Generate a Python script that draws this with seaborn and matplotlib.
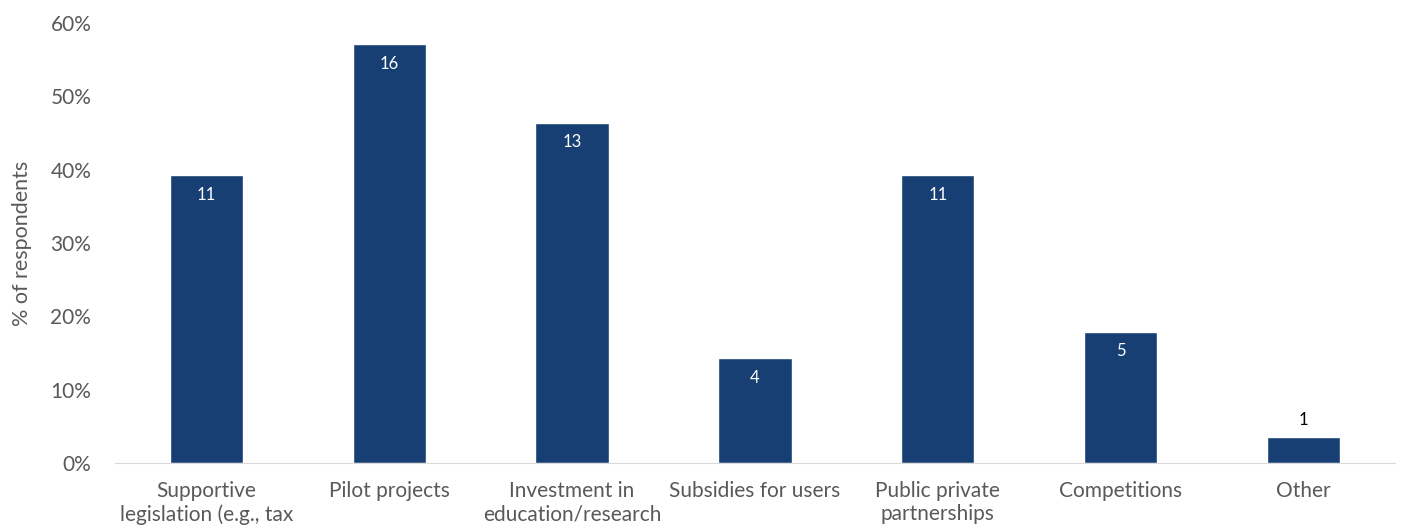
import pandas as pd
import seaborn as sns
import matplotlib.pyplot as plt
from matplotlib.ticker import PercentFormatter

categories = [
    "Supportive\nlegislation (e.g., tax",
    "Pilot projects",
    "Investment in\neducation/research",
    "Subsidies for users",
    "Public private\npartnerships",
    "Competitions",
    "Other",
]
pct = [39.3, 57.1, 46.4, 14.3, 39.3, 17.9, 3.6]
counts = [11, 16, 13, 4, 11, 5, 1]

df = pd.DataFrame({"category": categories, "pct": pct, "count": counts})

sns.set_style("white")
plt.rcParams["font.family"] = ["Lato", "DejaVu Sans"]

fig = plt.figure(figsize=(14.01, 5.32), dpi=100)
ax = fig.add_axes([0.082, 0.1297, 0.9137, 0.8271])

sns.barplot(data=df, x="category", y="pct", color="#173f73", width=0.4,
            saturation=1, ax=ax)

ax.set_ylim(0, 60)
ax.set_yticks(range(0, 61, 10))
ax.yaxis.set_major_formatter(PercentFormatter(decimals=0))
ax.set_xlabel("")
ax.set_ylabel("% of respondents", fontsize=15.5, color="#595959", labelpad=13)
ax.tick_params(axis="both", length=0, labelsize=15, labelcolor="#595959")
ax.tick_params(axis="y", pad=17)
ax.tick_params(axis="x", pad=13)

for s in ["top", "right", "left"]:
    ax.spines[s].set_visible(False)
ax.spines["bottom"].set_color("#d9d9d9")

for i, row in df.iterrows():
    if row["pct"] > 8:
        ax.text(i, row["pct"] - 1.6, str(row["count"]), ha="center", va="top",
                color="white", fontsize=12)
    else:
        ax.text(i, row["pct"] + 1.2, str(row["count"]), ha="center",
                va="bottom", color="black", fontsize=12)

fig.savefig("out.png", dpi=100)
